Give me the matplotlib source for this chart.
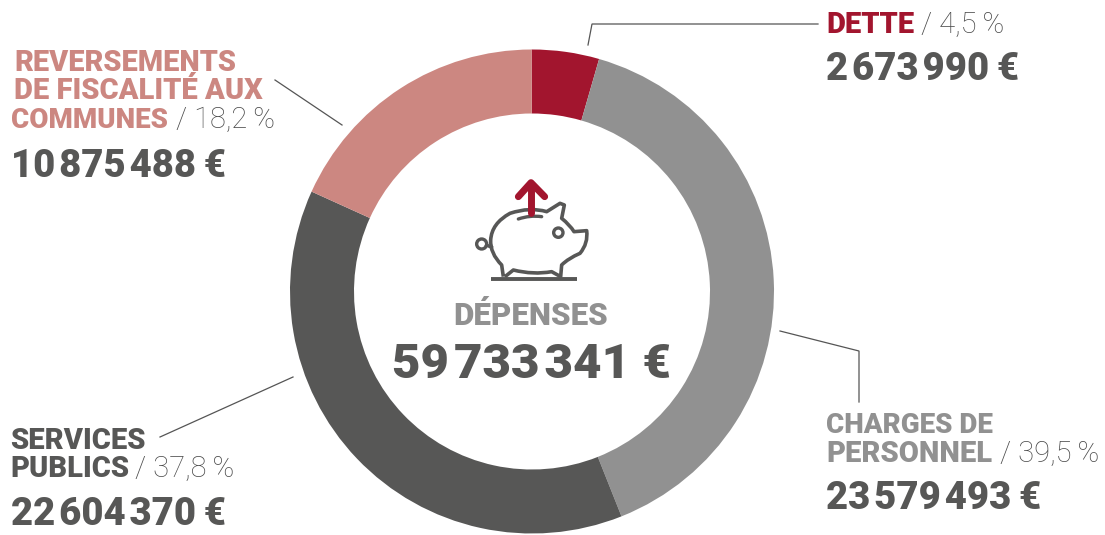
import matplotlib
matplotlib.use('Agg')
import matplotlib.pyplot as plt
from matplotlib.path import Path
from matplotlib.patches import PathPatch, Circle

# values, clockwise from the top
labels = ['DETTE', 'CHARGES DE PERSONNEL', 'SERVICES PUBLICS', 'REVERSEMENTS DE FISCALITÉ AUX COMMUNES']
shares = [4.5, 39.5, 37.8, 18.2]
amounts = ['2\u200a673\u200a990\u2009€', '23\u200a579\u200a493\u2009€', '22\u200a604\u200a370\u2009€', '10\u200a875\u200a488\u2009€']
total = '59\u200a733\u200a341 €'

RED = '#A2152E'
GREY = '#919191'
DARK = '#575756'
PINK = '#CC8781'
colors = [RED, GREY, DARK, PINK]

W, H = 1105, 535
plt.rcParams['font.family'] = ['Roboto', 'DejaVu Sans']

fig = plt.figure(figsize=(W / 100, H / 100), dpi=100)
ax = fig.add_axes([0, 0, 1, 1])


def Y(py):
    return H - py


def zoomed(p):
    # icon was traced in 3x zoom coordinates
    return (450 + p[0] / 3, Y(160 + p[1] / 3))


ax.pie(shares, colors=colors, startangle=90.1, counterclock=False, radius=242,
       center=(532, Y(291.5)), wedgeprops=dict(width=64, linewidth=0), frame=True)
ax.set_xlim(0, W)
ax.set_ylim(0, H)
ax.set_aspect('equal')
ax.axis('off')

# leader lines
leaders = [[(588, 45), (592, 24), (818, 24)],
           [(275, 80), (342, 125)],
           [(780, 331), (859, 351), (859, 402)],
           [(160, 437), (293, 377)]]
for pts in leaders:
    ax.plot([p[0] for p in pts], [Y(p[1]) for p in pts], color='#555555', lw=0.9, solid_joinstyle='miter')


def run(x, y, s, color, size, weight=900):
    return ax.text(x, Y(y), s, color=color, fontsize=size, fontweight=weight, ha='left', va='baseline')


LW = 'light'
head = 21
num = 27.5
pct = 21
pct_col = '#4a4a4a'

run(826, 33, 'DETTE', RED, head)
run(921, 33, '/ 4,5\u2009%', pct_col, pct, LW)
run(826, 80, amounts[0], DARK, num)

run(14, 71, 'REVERSEMENTS', PINK, 20.8)
run(14, 99, 'DE FISCALITÉ AUX', PINK, head)
run(11, 128, 'COMMUNES', PINK, 20)
run(176, 128, '/ 18,2\u2009%', pct_col, pct, LW)
run(11, 177, amounts[3], DARK, num)

run(826, 433, 'CHARGES DE', GREY, 20)
run(826, 462, 'PERSONNEL', GREY, head)
run(1000, 462, '/ 39,5\u2009%', pct_col, pct, LW)
run(826, 509, amounts[1], DARK, num)

run(10, 449, 'SERVICES', DARK, head)
run(10, 477, 'PUBLICS', DARK, head)
run(135, 477, '/ 37,8\u2009%', pct_col, pct, LW)
run(11, 525, amounts[2], DARK, num)

ax.text(531, Y(325), 'DÉPENSES', color=GREY, fontsize=22.5, fontweight=900, ha='center', va='baseline')
ax.text(531, Y(378), total, color=DARK, fontsize=35.5, fontweight=900, ha='center', va='baseline')

# piggy bank icon
body = [(160, 350), (155, 315), (120, 280), (122, 240), (125, 190), (180, 160), (240, 140), (290, 155),
        (330, 130), (343, 135), (335, 175), (360, 195), (372, 215), (410, 212), (415, 250), (390, 280),
        (355, 295), (335, 315), (332, 350), (305, 335), (250, 345), (190, 330), (165, 350)]
codes = [Path.MOVETO, Path.LINETO, Path.CURVE3, Path.CURVE3, Path.CURVE3, Path.CURVE3, Path.CURVE3, Path.CURVE3,
         Path.LINETO, Path.LINETO, Path.LINETO, Path.CURVE3, Path.CURVE3, Path.LINETO, Path.CURVE3, Path.CURVE3,
         Path.CURVE3, Path.CURVE3, Path.LINETO, Path.LINETO, Path.CURVE3, Path.CURVE3, Path.LINETO]
ax.add_patch(PathPatch(Path([zoomed(p) for p in body], codes), fc='none', ec=DARK, lw=2.6, joinstyle='round'))
ax.plot(*zip(*[zoomed(p) for p in [(122, 356), (380, 356)]]), color=DARK, lw=2.8, solid_capstyle='butt')
ax.add_patch(PathPatch(Path([zoomed(p) for p in [(205, 177), (240, 165), (275, 170)]],
                            [Path.MOVETO, Path.CURVE3, Path.CURVE3]), fc='none', ec=DARK, lw=2.4, capstyle='round'))
ax.add_patch(Circle(zoomed((325, 218)), 14 / 3, fc='none', ec=DARK, lw=2.4))
ax.add_patch(Circle(zoomed((95, 252)), 15 / 3, fc='none', ec=DARK, lw=2.4))
ax.plot(*zip(*[zoomed(p) for p in [(110, 255), (124, 262)]]), color=DARK, lw=2.4)
ax.plot(*zip(*[zoomed(p) for p in [(243, 158), (243, 72)]]), color=RED, lw=5, solid_capstyle='round')
ax.plot(*zip(*[zoomed(p) for p in [(205, 110), (243, 68), (284, 110)]]), color=RED, lw=5,
        solid_capstyle='round', solid_joinstyle='round')

fig.savefig('out.png', dpi=100)
